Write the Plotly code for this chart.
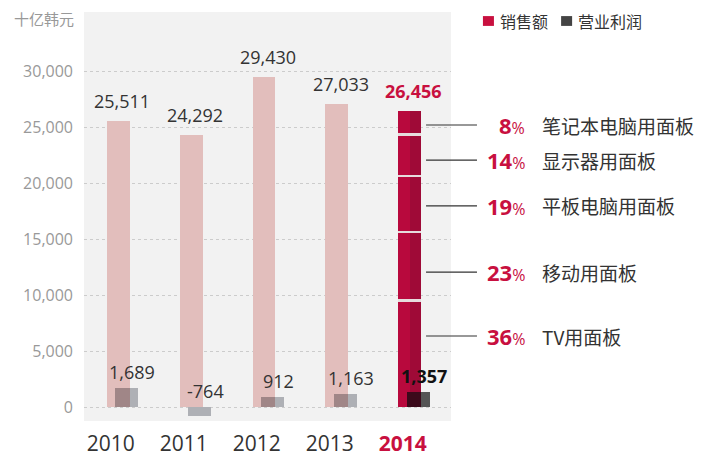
import plotly.graph_objects as go

years = ["2010", "2011", "2012", "2013", "2014"]
sales = [25511, 24292, 29430, 27033, 26456]
profit = [1689, -764, 912, 1163, 1357]
seg_names = ["TV用面板", "移动用面板", "平板电脑用面板", "显示器用面板", "笔记本电脑用面板"]
seg_pct = [36, 23, 19, 14, 8]
# vertical anchor (value units) of the callout for each segment
seg_label_y = [6340, 12050, 17950, 22050, 25180]

CRIMSON = "#c8103f"
FONT = "Open Sans, Noto Sans CJK SC, sans-serif"
CJK = "Noto Sans CJK SC, Open Sans, sans-serif"

xs = list(range(len(years)))
n_hist = len(years) - 1
last = len(years) - 1
W = 0.315
POFF = 0.11
GAP = 220  # separator thickness between 2014 segments (value units, ~2.5px)

fig = go.Figure()

# historic sales bars
fig.add_trace(go.Bar(x=xs[:n_hist], y=sales[:n_hist], width=W, offset=-W / 2,
                     marker=dict(color="#e2bebc", line=dict(width=0)),
                     hoverinfo="skip", showlegend=False))

# 2014 stacked segments
seg_vals = [p / 100 * sales[last] for p in seg_pct]
bases = []
acc = 0
for v in seg_vals:
    bases.append(acc)
    acc += v
fig.add_trace(go.Bar(x=[xs[last]] * len(seg_vals), y=seg_vals, base=bases, width=W, offset=-W / 2,
                     marker=dict(color="#b8093d", line=dict(width=0)),
                     hoverinfo="skip", showlegend=False))
fig.add_trace(go.Bar(x=[xs[last]] * len(seg_vals), y=seg_vals, base=bases, width=W / 2, offset=0,
                     marker=dict(color="#9f0a37", line=dict(width=0)),
                     hoverinfo="skip", showlegend=False))
# light separators between segments
fig.add_trace(go.Bar(x=[xs[last]] * (len(bases) - 1), y=[GAP] * (len(bases) - 1),
                     base=[b - GAP / 2 for b in bases[1:]], width=W, offset=-W / 2,
                     marker=dict(color="#e6dcdd", line=dict(width=0)),
                     hoverinfo="skip", showlegend=False))

# profit bars (full, then overlap part)
pcol = ["#aeb0b5"] * n_hist + ["#555555"]
ocol = ["#a08687"] * n_hist + ["#3b0a1b"]
fig.add_trace(go.Bar(x=xs, y=profit, width=W, offset=POFF - W / 2,
                     marker=dict(color=pcol, line=dict(width=0)),
                     hoverinfo="skip", showlegend=False))
fig.add_trace(go.Bar(x=xs, y=[max(p, 0) for p in profit], width=W / 2 + (W / 2 - POFF),
                     offset=POFF - W / 2,
                     marker=dict(color=ocol, line=dict(width=0)),
                     hoverinfo="skip", showlegend=False))

# callout dots
fig.add_trace(go.Scatter(x=[4.918] * len(seg_label_y), y=seg_label_y, mode="markers",
                         marker=dict(size=4, color="#222"), cliponaxis=False,
                         hoverinfo="skip", showlegend=False))

annotations = []
# sales labels
for i, (x, v) in enumerate(zip(xs, sales)):
    is_last = i == last
    annotations.append(dict(x=x, y=v, xref="x", yref="y", text=f"{v:,}", showarrow=False,
                            yanchor="bottom", yshift=6, xshift=4,
                            font=dict(family=FONT, size=18,
                                      color=CRIMSON if is_last else "#333333",
                                      weight="bold" if is_last else "normal")))
# profit labels
for i, (x, v) in enumerate(zip(xs, profit)):
    is_last = i == last
    annotations.append(dict(x=x + POFF, y=max(v, 0), xref="x", yref="y", text=f"{v:,}",
                            showarrow=False, yanchor="bottom", yshift=2, xshift=6,
                            font=dict(family=FONT, size=18,
                                      color="#111111" if is_last else "#333333",
                                      weight="bold" if is_last else "normal")))

shapes = []
for name, pct, ly in zip(seg_names, seg_pct, seg_label_y):
    shapes.append(dict(type="line", xref="paper", yref="y", x0=0.932, x1=1.0708, y0=ly, y1=ly,
                       line=dict(color="#333333", width=1.2)))
    annotations.append(dict(x=1.207, y=ly, xref="paper", yref="y", xanchor="right",
                            yanchor="middle", showarrow=False,
                            text=f"<b>{pct}</b><span style='font-size:16px'>%</span>",
                            font=dict(family=FONT, size=22, color=CRIMSON)))
    annotations.append(dict(x=1.2425, y=ly, xref="paper", yref="y", xanchor="left",
                            yanchor="middle", showarrow=False, text=name,
                            font=dict(family=CJK, size=19, color="#333333")))

# unit label
annotations.append(dict(x=0, y=1, xref="paper", yref="paper", xanchor="right", yanchor="middle",
                        xshift=-8, yshift=-6, showarrow=False, text="十亿韩元",
                        font=dict(family=CJK, size=15, color="#999999")))

# legend
shapes.append(dict(type="rect", xref="paper", yref="paper", x0=1.087, x1=1.117, y0=0.966, y1=0.990,
                   fillcolor=CRIMSON, line=dict(width=0)))
shapes.append(dict(type="rect", xref="paper", yref="paper", x0=1.300, x1=1.330, y0=0.966, y1=0.990,
                   fillcolor="#444444", line=dict(width=0)))
annotations.append(dict(x=1.127, y=0.978, xref="paper", yref="paper", xanchor="left",
                        yanchor="middle", showarrow=False, text="销售额",
                        font=dict(family=CJK, size=16, color="#333333")))
annotations.append(dict(x=1.340, y=0.978, xref="paper", yref="paper", xanchor="left",
                        yanchor="middle", showarrow=False, text="营业利润",
                        font=dict(family=CJK, size=16, color="#333333")))

ticktext = [y if i != last else f"<b><span style='color:{CRIMSON}'>{y}</span></b>"
            for i, y in enumerate(years)]

# the page body adds an 8px offset, so the figure is sized/margined to compensate
fig.update_layout(
    width=710, height=449,
    margin=dict(l=76, r=267, t=4, b=36, autoexpand=False),
    paper_bgcolor="white", plot_bgcolor="#f2f2f2",
    barmode="overlay", bargap=0,
    showlegend=False,
    xaxis=dict(range=[-0.466, 4.562], tickvals=[x - 0.1 for x in xs], ticktext=ticktext,
               showgrid=False, zeroline=False, showline=False, ticks="", automargin=False,
               tickfont=dict(family=FONT, size=21, color="#333333"), ticklabelstandoff=8,
               fixedrange=True),
    yaxis=dict(range=[-1250, 35270], tickvals=[0, 5000, 10000, 15000, 20000, 25000, 30000],
               tickformat=",", showgrid=True, gridcolor="#cccccc", griddash="dot", gridwidth=1,
               zeroline=False, showline=False, ticks="", automargin=False,
               tickfont=dict(family=FONT, size=16, color="#999999"), ticklabelstandoff=10,
               fixedrange=True),
    shapes=shapes, annotations=annotations,
)

fig.write_html("out.html")
